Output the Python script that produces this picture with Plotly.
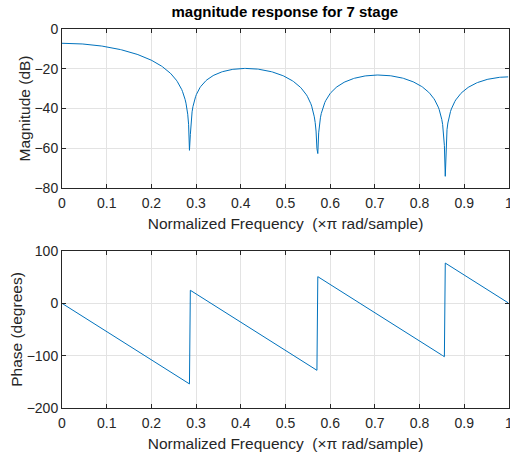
import numpy as np
import plotly.graph_objects as go
from plotly.subplots import make_subplots

# 7-tap moving-sum filter, scaled by 1/16
taps = [0.0625, 0.0625, 0.0625, 0.0625, 0.0625, 0.0625, 0.0625]
n_points = 512

# frequency response on the half-band grid (0 .. pi, pi excluded)
k = np.arange(n_points)
w = np.pi * k / n_points
H = np.zeros(n_points, dtype=complex)
for i, b in enumerate(taps):
    H += b * np.exp(-1j * w * i)
freq = w / np.pi
mag_db = 20 * np.log10(np.abs(H))
phase_deg = np.unwrap(np.angle(H)) * 180 / np.pi

x_ticks = [0, 0.1, 0.2, 0.3, 0.4, 0.5, 0.6, 0.7, 0.8, 0.9, 1]
x_tick_text = ["0", "0.1", "0.2", "0.3", "0.4", "0.5", "0.6", "0.7", "0.8", "0.9", "1"]
mag_ticks = [0, -20, -40, -60, -80]
phase_ticks = [100, 0, -100, -200]

AX = "#262626"
GRID = "#e3e3e3"
LINE = "#0072BD"
FONT = "Liberation Sans, Arial, sans-serif"

fig = make_subplots(rows=2, cols=1, vertical_spacing=0.0)
fig.add_trace(go.Scatter(x=freq, y=mag_db, mode="lines",
                         line=dict(color=LINE, width=1)), row=1, col=1)
fig.add_trace(go.Scatter(x=freq, y=phase_deg, mode="lines",
                         line=dict(color=LINE, width=1)), row=2, col=1)

axis_common = dict(showline=True, linecolor=AX, linewidth=1, mirror="ticks",
                   ticks="inside", ticklen=4, tickcolor=AX,
                   showgrid=True, gridcolor=GRID, gridwidth=1,
                   zeroline=False, ticklabeloverflow="allow", automargin=False,
                   tickfont=dict(family=FONT, size=14, color=AX))
xtitle = dict(text="Normalized Frequency  (\u00d7\u03c0 rad/sample)",
              font=dict(family=FONT, size=15.5, color=AX), standoff=8)

fig.update_xaxes(range=[0, 1], tickvals=x_ticks, ticktext=x_tick_text,
                 ticklabelstandoff=2, title=xtitle, **axis_common)
fig.update_xaxes(domain=[0, 1], row=1, col=1)
fig.update_xaxes(domain=[0, 1], row=2, col=1)
fig.update_yaxes(range=[-80, 0], tickvals=mag_ticks, domain=[0.5805, 1.0],
                 title=dict(text="Magnitude (dB)", font=dict(family=FONT, size=15.5, color=AX), standoff=0),
                 row=1, col=1, **axis_common)
fig.update_yaxes(range=[-200, 100], tickvals=phase_ticks, domain=[0.0, 0.4142],
                 title=dict(text="Phase (degrees)", font=dict(family=FONT, size=15.5, color=AX), standoff=0),
                 row=2, col=1, **axis_common)

fig.update_layout(
    width=510, height=456,
    margin=dict(l=62, r=1, t=29, b=48),
    paper_bgcolor="white", plot_bgcolor="white",
    showlegend=False,
    title=dict(text="<b>magnitude response for 7 stage</b>", x=0.5585, xanchor="center",
               y=1 - 12 / 456, yanchor="middle",
               font=dict(family=FONT, size=15, color="#000000")),
)

fig.write_html("out.html")
